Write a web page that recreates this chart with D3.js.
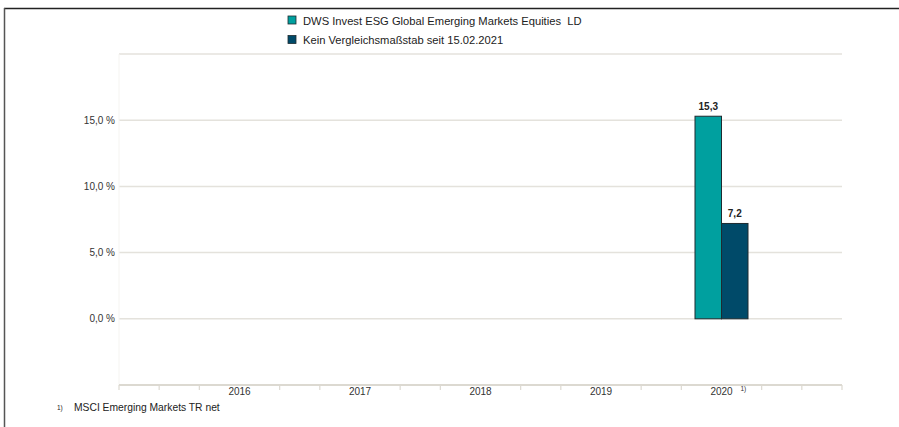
<!DOCTYPE html>
<html>
<head>
<meta charset="utf-8">
<script src="https://cdn.jsdelivr.net/npm/d3@7"></script>
<style>
  body { margin: 0; background: #fff; }
  text { font-family: "Liberation Sans", Arial, sans-serif; }
</style>
</head>
<body>
<div id="chart"></div>
<script>
// Data
const years = ["2016", "2017", "2018", "2019", "2020"];
const seriesNames = ["DWS Invest ESG Global Emerging Markets Equities  LD", "Kein Vergleichsmaßstab seit 15.02.2021"];
const fundValues = [null, null, null, null, 15.3];
const benchValues = [null, null, null, null, 7.2];
const yTicks = [0, 5, 10, 15];
const colors = ["#00a09f", "#004a69"];

const W = 899, H = 427;
const svg = d3.select("#chart").append("svg")
    .attr("width", W)
    .attr("height", H);

// frame (top and left only)
svg.append("line").attr("x1", 4).attr("x2", W).attr("y1", 8.5).attr("y2", 8.5)
    .attr("stroke", "#222").attr("stroke-width", 1.5);
svg.append("line").attr("x1", 4.5).attr("x2", 4.5).attr("y1", 8).attr("y2", H)
    .attr("stroke", "#555").attr("stroke-width", 1.5);

// Scales
const left = 119, right = 842;
const y = d3.scaleLinear().domain([-5, 20]).range([385, 54]);
// years sit on band boundaries 1..5 of a 6-slot axis
const x = d3.scaleLinear().domain([0, 6]).range([left, right]);

// Gridlines
svg.append("g")
    .selectAll("line")
    .data([0, 5, 10, 15, 20])
    .join("line")
    .attr("x1", left).attr("x2", right)
    .attr("y1", d => y(d)).attr("y2", d => y(d))
    .attr("stroke", "#e4e2dc").attr("stroke-width", 1.5);

// faint y axis line
svg.append("line").attr("x1", left).attr("x2", left).attr("y1", y(20)).attr("y2", y(-5))
    .attr("stroke", "#f5f4f1").attr("stroke-width", 1);

// Y labels
svg.append("g")
    .selectAll("text")
    .data(yTicks)
    .join("text")
    .attr("x", 115)
    .attr("y", d => y(d) + 3.5)
    .attr("text-anchor", "end")
    .style("font-size", "10px")
    .attr("fill", "#333")
    .text(d => d3.format(".1f")(d).replace(".", ",") + " %");

// X axis line and ticks
svg.append("line").attr("x1", left).attr("x2", right).attr("y1", y(-5)).attr("y2", y(-5))
    .attr("stroke", "#dcd9d1").attr("stroke-width", 2);
const minor = d3.range(0, 19).map(i => i / 3).filter((v, i) => !(i % 3 === 0 && i >= 3 && i <= 15));
svg.append("g")
    .selectAll("line")
    .data(minor)
    .join("line")
    .attr("x1", d => x(d)).attr("x2", d => x(d))
    .attr("y1", y(-5)).attr("y2", y(-5) + 5)
    .attr("stroke", "#dcd9d1").attr("stroke-width", 1.2);

svg.append("g")
    .selectAll("text")
    .data(years)
    .join("text")
    .attr("x", (d, i) => x(i + 1))
    .attr("y", 395)
    .attr("text-anchor", "middle")
    .style("font-size", "10px")
    .attr("fill", "#333")
    .text(d => d);
svg.append("text")
    .attr("x", x(5) + 19).attr("y", 391)
    .style("font-size", "6.5px").attr("fill", "#333")
    .text("1)");

// Bars
const barW = 26.5;
const bars = [
  { values: fundValues, offset: -barW, color: colors[0] },
  { values: benchValues, offset: 0, color: colors[1] }
];
bars.forEach(s => {
  const pts = s.values.map((v, i) => ({ v, i })).filter(d => d.v != null);
  svg.append("g")
      .selectAll("rect")
      .data(pts)
      .join("rect")
      .attr("x", d => x(d.i + 1) + s.offset)
      .attr("y", d => y(d.v))
      .attr("width", barW)
      .attr("height", d => y(0) - y(d.v))
      .attr("fill", s.color)
      .attr("stroke", "#1e2b30").attr("stroke-width", 1);
  svg.append("g")
      .selectAll("text")
      .data(pts)
      .join("text")
      .attr("x", d => x(d.i + 1) + s.offset + barW / 2)
      .attr("y", d => y(d.v) - 6)
      .attr("text-anchor", "middle")
      .style("font-size", "10px")
      .style("font-weight", "bold")
      .attr("fill", "#222")
      .text(d => d3.format(".1f")(d.v).replace(".", ","));
});

// Legend
const legend = svg.append("g").attr("transform", "translate(288, 16)");
seriesNames.forEach((name, i) => {
  legend.append("rect")
      .attr("x", 0).attr("y", i * 19.5)
      .attr("width", 8).attr("height", 8)
      .attr("fill", colors[i]).attr("stroke", "#1e2b30").attr("stroke-width", 0.8);
  legend.append("text")
      .attr("x", 15).attr("y", i * 19.5 + 8.5)
      .style("font-size", "11.2px")
      .attr("fill", "#222")
      .style("white-space", "pre")
      .attr("xml:space", "preserve")
      .text(name);
});

// Footnote
svg.append("text").attr("x", 57).attr("y", 410).style("font-size", "6.5px").attr("fill", "#222").text("1)");
svg.append("text").attr("x", 74).attr("y", 411).style("font-size", "10.3px").attr("fill", "#222")
    .text("MSCI Emerging Markets TR net");
</script>
</body>
</html>
